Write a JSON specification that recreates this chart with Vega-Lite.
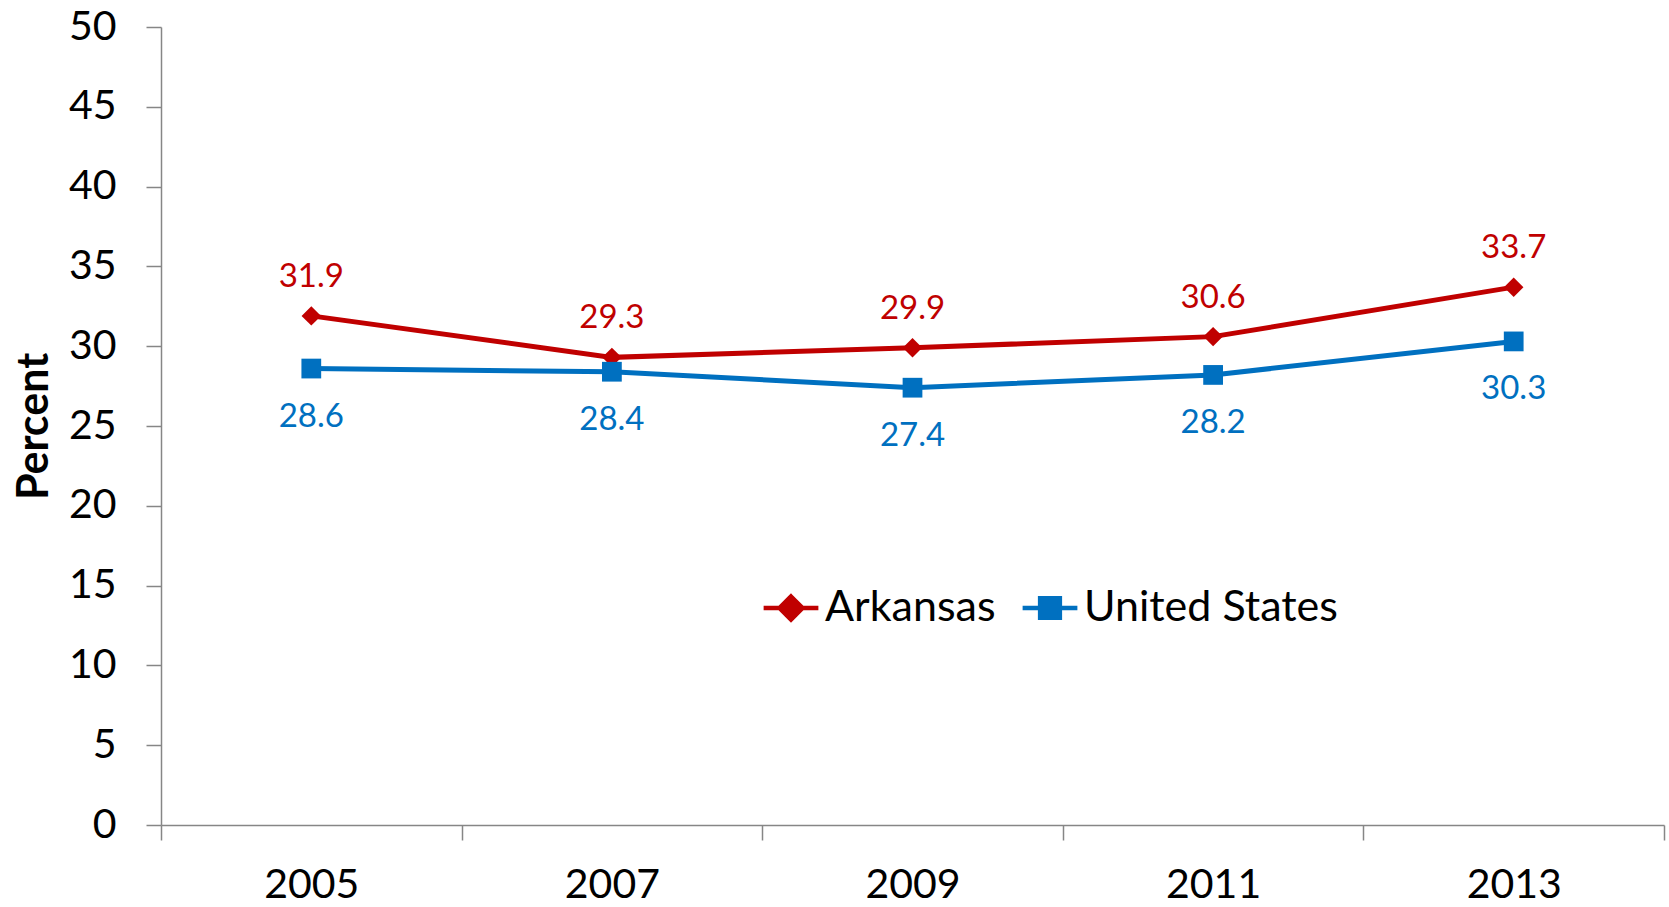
{
  "$schema": "https://vega.github.io/schema/vega-lite/v6.json",
  "width": 1503,
  "height": 798,
  "autosize": {"type": "none"},
  "padding": {"left": 161, "top": 27, "right": 5, "bottom": 82},
  "background": "white",
  "config": {
    "view": {"stroke": null},
    "font": "Lato",
    "axis": {"grid": false, "domainColor": "#868686", "tickColor": "#868686", "domainWidth": 1.5, "tickWidth": 1.5, "labelColor": "#000000", "labelFont": "Lato", "labelFontSize": 41}
  },
  "data": {
    "values": [
      {"year": "2005", "series": "Arkansas", "value": 31.9},
      {"year": "2007", "series": "Arkansas", "value": 29.3},
      {"year": "2009", "series": "Arkansas", "value": 29.9},
      {"year": "2011", "series": "Arkansas", "value": 30.6},
      {"year": "2013", "series": "Arkansas", "value": 33.7},
      {"year": "2005", "series": "United States", "value": 28.6},
      {"year": "2007", "series": "United States", "value": 28.4},
      {"year": "2009", "series": "United States", "value": 27.4},
      {"year": "2011", "series": "United States", "value": 28.2},
      {"year": "2013", "series": "United States", "value": 30.3}
    ]
  },
  "encoding": {
    "x": {"field": "year", "type": "ordinal", "scale": {"paddingInner": 0, "paddingOuter": 0},
      "axis": {"title": null, "labelAngle": 0, "tickBand": "extent", "tickSize": 15, "labelPadding": 25, "domain": true}},
    "y": {"field": "value", "type": "quantitative", "scale": {"domain": [0, 50], "nice": false},
      "axis": {"title": "Percent", "titleFont": "Lato", "titleFontSize": 43, "titleFontWeight": "bold", "titleColor": "#000000", "titlePadding": 12, "values": [0,5,10,15,20,25,30,35,40,45,50], "tickSize": 15, "labelPadding": 30}},
    "color": {"field": "series", "type": "nominal", "scale": {"domain": ["Arkansas", "United States"], "range": ["#C00000", "#0070C0"]},
      "legend": {
        "title": null, "orient": "none", "direction": "horizontal", "legendX": 600, "legendY": 551,
        "labelFont": "Lato", "labelFontSize": 43, "labelColor": "#000000", "labelLimit": 500, "columnPadding": 17, "labelOffset": 4,
        "symbolSize": 3000, "symbolStrokeWidth": 4.5, "symbolOpacity": 1,
        "encode": {"symbols": {"update": {
          "shape": {"signal": "datum.value === 'Arkansas' ? 'M-1,0H1M0,-0.42L0.42,0L0,0.42L-0.42,0Z' : 'M-1,0H1M-0.36,-0.36H0.36V0.36H-0.36Z'"},
          "stroke": {"signal": "datum.value === 'Arkansas' ? '#C00000' : '#0070C0'"},
          "fill": {"signal": "datum.value === 'Arkansas' ? '#C00000' : '#0070C0'"},
          "strokeWidth": {"value": 4.5},
          "opacity": {"value": 1}
        }}}
      }}
  },
  "layer": [
    {"mark": {"type": "line", "strokeWidth": 5}},
    {"transform": [{"filter": "datum.series === 'Arkansas'"}],
      "mark": {"type": "point", "filled": true, "opacity": 1, "size": 380, "shape": "diamond"}},
    {"transform": [{"filter": "datum.series === 'United States'"}],
      "mark": {"type": "point", "filled": true, "opacity": 1, "size": 390, "shape": "square"}},
    {"transform": [{"filter": "datum.series === 'Arkansas'"}],
      "mark": {"type": "text", "dy": -39, "fontSize": 33, "font": "Lato"},
      "encoding": {"text": {"field": "value", "type": "quantitative", "format": ".1f"}}},
    {"transform": [{"filter": "datum.series === 'United States'"}],
      "mark": {"type": "text", "dy": 48, "fontSize": 33, "font": "Lato"},
      "encoding": {"text": {"field": "value", "type": "quantitative", "format": ".1f"}}}
  ]
}
